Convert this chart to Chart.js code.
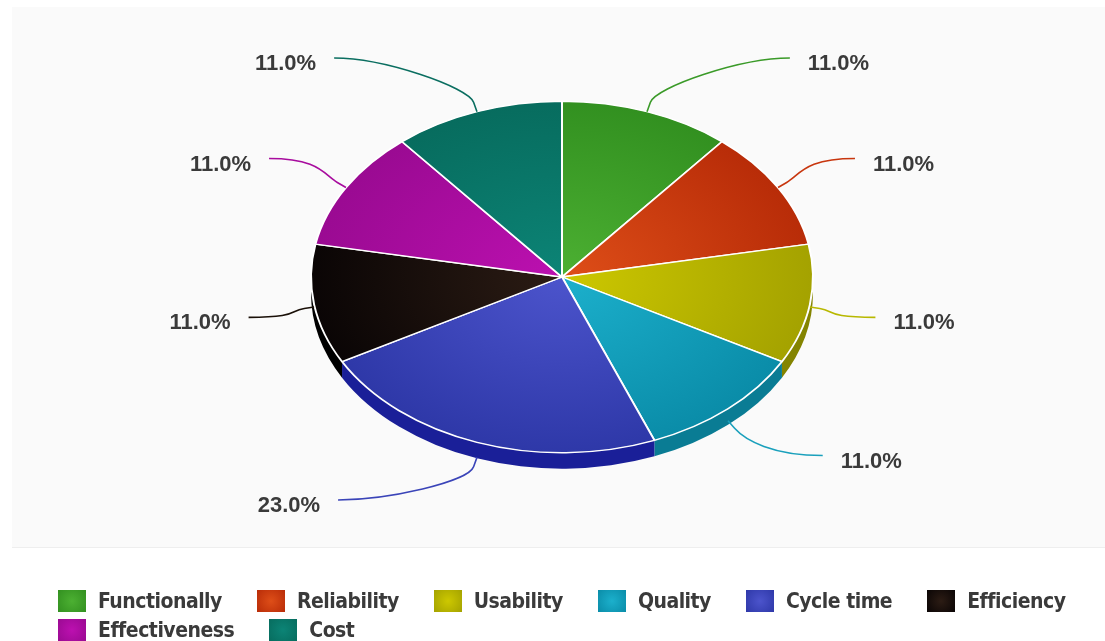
<!DOCTYPE html>
<html>
<head>
<meta charset="utf-8">
<script src="https://cdn.jsdelivr.net/npm/chart.js@4.4.0/dist/chart.umd.min.js"></script>
<style>
  body { margin: 0; background: #fff; overflow: hidden; }
  #wrap { position: relative; width: 1105px; height: 641px; overflow: hidden; }
  #legend { position: absolute; left: 58px; top: 586px; width: 1075px; display: flex; flex-wrap: wrap; }
  .item { display: flex; align-items: center; height: 29px; margin-right: 35px; letter-spacing: -0.5px;
          font: bold 21px 'DejaVu Sans Condensed', sans-serif; color: #3a3a3a; }
  .box { width: 28px; height: 22px; margin-right: 12px; }
</style>
</head>
<body>
<div id="wrap">
  <canvas id="myChart" width="1105" height="641"></canvas>
  <div id="legend"></div>
</div>
<script>
let LABELS = ['Functionally', 'Reliability', 'Usability', 'Quality', 'Cycle time', 'Efficiency', 'Effectiveness', 'Cost']
let VALUES = [11, 11, 11, 11, 23, 11, 11, 11]

// colours: centre of the slice, outer rim, side wall, leader line
let LIGHT = ['#4cb032', '#de4e18', '#cdc800', '#1cb0cc', '#4c54cc', '#2c1c14', '#bc10b0', '#0c8476']
let DARK = ['#329020', '#b82c08', '#a4a200', '#0a8ca8', '#2e38a8', '#0a0505', '#9a0a92', '#076c5e']
let SIDE = ['#237016', '#8e2006', '#848400', '#0a7c94', '#1a1f98', '#000000', '#70066a', '#044e44']
let LINE = ['#3a9a28', '#c8360e', '#b8b800', '#1aa0bc', '#3a44b8', '#1a1008', '#a80c9e', '#0a6e60']

const TILT = 0.7
const DEPTH = 16

let ctx = document.getElementById('myChart');

const pie3d = {
    id: 'pie3d',
    beforeDraw(chart) {
        const c = chart.ctx
        c.save()
        c.fillStyle = '#fafafa'
        c.fillRect(12, 7, 1093, 540)
        c.fillStyle = '#eeeeee'
        c.fillRect(12, 547, 1093, 1)
        c.restore()
    },
    beforeDatasetsDraw(chart) {
        const c = chart.ctx
        const arcs = chart.getDatasetMeta(0).data
        const { x, y, outerRadius: r } = arcs[0]
        // side walls of the front half
        arcs.forEach((arc, i) => {
            let a1 = Math.max(arc.startAngle, 0)
            let a2 = Math.min(arc.endAngle, Math.PI)
            if (a2 <= a1) return
            c.beginPath()
            c.ellipse(x, y, r, r * TILT, 0, a1, a2)
            c.ellipse(x, y + DEPTH, r, r * TILT, 0, a2, a1, true)
            c.closePath()
            c.fillStyle = SIDE[i]
            c.fill()
        })
        c.save()
        c.translate(x, y)
        c.scale(1, TILT)
        c.translate(-x, -y)
    },
    afterDatasetsDraw(chart) {
        const c = chart.ctx
        c.restore()
        const arcs = chart.getDatasetMeta(0).data
        const { x, y, outerRadius: r } = arcs[0]
        const total = VALUES.reduce((a, b) => a + b, 0)
        const labelR = r + 65
        arcs.forEach((arc, i) => {
            const a = (arc.startAngle + arc.endAngle) / 2
            const cs = Math.cos(a), sn = Math.sin(a)
            const drop = sn > 0 ? DEPTH * sn : 0
            const pt = (d) => ({ x: x + (r + d) * cs, y: y + (r * TILT + d) * sn + drop })
            const p0 = pt(0), k1 = pt(10), k2 = pt(26)
            const ey = y + (r * TILT + 57) * sn + (sn > 0 ? 4 : 0)
            const dir = cs >= 0 ? 1 : -1
            const ex = x + dir * Math.sqrt(Math.max(labelR * labelR - (ey - y) * (ey - y), 0))

            c.beginPath()
            c.moveTo(p0.x, p0.y)
            c.lineTo(k1.x, k1.y)
            c.bezierCurveTo(k2.x, k2.y, ex - dir * 50, ey, ex, ey)
            c.strokeStyle = LINE[i]
            c.lineWidth = 1.6
            c.stroke()

            c.font = 'bold 22px "Liberation Sans", Arial, sans-serif'
            c.fillStyle = '#3a3a3a'
            c.textBaseline = 'middle'
            c.textAlign = dir > 0 ? 'left' : 'right'
            const txt = (VALUES[i] / total * 100).toFixed(1) + '%'
            c.fillText(txt, ex + dir * 18, ey + 6)
        })
    }
}

let myChart = new Chart(ctx, {
    type: 'pie',
    data: {
        labels: LABELS,
        datasets: [{
            data: VALUES,
            backgroundColor: (s) => {
                const chart = s.chart
                const area = chart.chartArea
                if (!area) return LIGHT[s.dataIndex]
                const cx = (area.left + area.right) / 2
                const cy = (area.top + area.bottom) / 2
                const rad = Math.min(area.width, area.height) / 2
                const g = chart.ctx.createRadialGradient(cx, cy, 0, cx, cy, rad)
                g.addColorStop(0, LIGHT[s.dataIndex])
                g.addColorStop(1, DARK[s.dataIndex])
                return g
            },
            borderColor: '#ffffff',
            borderWidth: 2
        }]
    },
    options: {
        responsive: false,
        animation: false,
        events: [],
        layout: {
            padding: { left: 19, right: 0, top: 25, bottom: 112 }
        },
        plugins: {
            legend: { display: false },
            tooltip: { enabled: false }
        }
    },
    plugins: [pie3d]
});

// html legend under the chart
let legendBox = document.getElementById('legend')
LABELS.forEach((name, i) => {
    let item = document.createElement('div')
    item.className = 'item'
    let box = document.createElement('span')
    box.className = 'box'
    box.style.background = `radial-gradient(circle, ${LIGHT[i]}, ${DARK[i]})`
    item.appendChild(box)
    item.appendChild(document.createTextNode(name))
    legendBox.appendChild(item)
})
</script>
</body>
</html>
